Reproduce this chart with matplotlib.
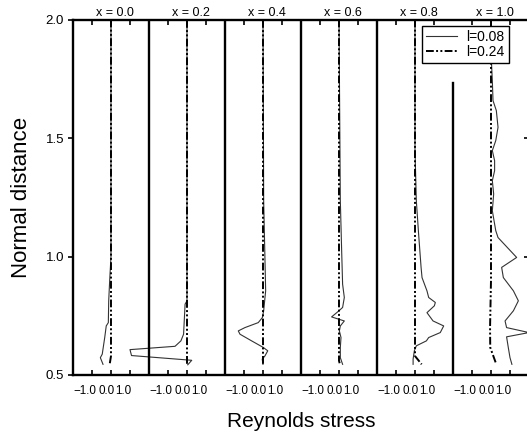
import numpy as np
import matplotlib.pyplot as plt
import matplotlib.transforms as mtransforms

plt.rcParams['font.family'] = ['Liberation Sans', 'DejaVu Sans']

# streamwise stations, one panel each
stations = ["x = 0.0", "x = 0.2", "x = 0.4", "x = 0.6", "x = 0.8", "x = 1.0"]

# l = 0.08 profiles: (Reynolds stress, normal distance)
s0_stress = [0, 0, -0.07, -0.12, -0.14, -0.25, -0.33, -0.46, -0.56, -0.42]
s0_y = [2.0, 1.0, 0.897, 0.813, 0.721, 0.707, 0.658, 0.588, 0.573, 0.545]
s1_stress = [0, 0, -0.1, -0.18, -0.32, -0.63, -3.0, -2.92, 0.25, 0.04]
s1_y = [2.0, 0.813, 0.799, 0.672, 0.644, 0.621, 0.607, 0.582, 0.562, 0.543]
s2_stress = [0, 0.035, 0.105, 0.14, 0.035, -0.035, -0.25, -0.95, -1.30, -1.21,
             -0.60, 0.02, 0.25, 0.1, -0.04, 0]
s2_y = [2.0, 1.235, 0.982, 0.855, 0.771, 0.742, 0.721, 0.700, 0.686, 0.672,
        0.644, 0.616, 0.602, 0.580, 0.567, 0.545]
s3_stress = [0, 0.07, 0.14, 0.19, 0.28, 0.19, 0, -0.39, 0.28, 0.07, 0.02,
             0.105, 0.07, 0.07, 0.19]
s3_y = [2.0, 1.235, 1.024, 0.883, 0.827, 0.785, 0.771, 0.745, 0.728, 0.707,
        0.686, 0.658, 0.616, 0.573, 0.545]
s4_stress = [0, 0, 0.07, 0.19, 0.32, 0.37, 0.63, 0.72, 1.07, 1.02, 0.63, 0.95,
             1.51, 1.33, 0.72, 0.6, 0.07, -0.035, -0.1, -0.1]
s4_y = [2.0, 1.447, 1.235, 1.095, 0.954, 0.911, 0.855, 0.827, 0.806, 0.792,
        0.763, 0.728, 0.707, 0.679, 0.658, 0.644, 0.623, 0.602, 0.567, 0.545]
s5_stress = [0, 0.02, 0.07, 0.105, 0.28, 0.37, 0.25, 0.07, 0.19, 0.19, 0.07,
             0.14, 0.07, 0.25, 0.37, 1.35, 0.56, 0.65, 1.18, 1.44, 1.18, 0.74,
             0.82, 2.0, 0.82, 0.91, 1.0, 1.1]
s5_y = [2.0, 1.827, 1.742, 1.658, 1.616, 1.545, 1.489, 1.447, 1.404, 1.362,
        1.320, 1.264, 1.193, 1.109, 1.080, 0.996, 0.954, 0.911, 0.855, 0.813,
        0.771, 0.728, 0.700, 0.679, 0.661, 0.616, 0.573, 0.545]

# l = 0.24 profiles
d0_stress = [0, 0, -0.07]
d0_y = [2.0, 0.58, 0.545]
d1_stress = [0, 0]
d1_y = [2.0, 0.545]
d2_stress = [0, 0]
d2_y = [2.0, 0.545]
d3_stress = [0, 0, 0.05]
d3_y = [2.0, 0.56, 0.545]
d4_stress = [0, 0, 0.35]
d4_y = [2.0, 0.58, 0.545]
d5_stress = [0, 0, -0.05, -0.04, 0.28]
d5_y = [2.0, 0.9, 0.7, 0.616, 0.545]

solid = [(s0_stress, s0_y), (s1_stress, s1_y), (s2_stress, s2_y),
         (s3_stress, s3_y), (s4_stress, s4_y), (s5_stress, s5_y)]
dashed = [(d0_stress, d0_y), (d1_stress, d1_y), (d2_stress, d2_y),
          (d3_stress, d3_y), (d4_stress, d4_y), (d5_stress, d5_y)]

panel_ticks = [-1.0, 0.0, 1.0]
tick_text = ["\u22121.0", "0.0", "1.0"]
label_nudge = [-7.0, -4.5, -6.5]  # px, per tick within a panel
y_ticks = [0.5, 1.0, 1.5, 2.0]
width = 4.0  # each panel spans -2..2 in stress

fig = plt.figure(figsize=(5.27, 4.41), dpi=100)
ax = fig.add_axes([0.1385, 0.1497, 0.8653, 0.806])

dashdot = (0, (4, 1.2, 1, 1.2, 1, 1.2))
for k in range(len(stations)):
    off = k * width
    xs, ys = solid[k]
    xd, yd = dashed[k]
    ax.plot(np.array(xs) + off, ys, color='#333333', lw=0.8,
            label='l=0.08' if k == 0 else None)
    ax.plot(np.array(xd) + off, yd, color='black', lw=1.4, linestyle=dashdot,
            label='l=0.24' if k == 0 else None)
    ax.text(off + 0.2, 2.013, stations[k], ha='center', va='baseline', fontsize=9)

# panel separators
for k in range(1, 5):
    ax.axvline(k * width - 2, color='black', lw=1.7)
ax.plot([5 * width - 2, 5 * width - 2], [0.5, 1.734], color='black', lw=1.7)

ticks = [k * width + t for k in range(6) for t in panel_ticks]
labels = tick_text * 6
ax.set_xticks(ticks)
ax.set_xticklabels(labels, fontsize=8.4)
ax.set_xlim(-2, 22)
ax.set_ylim(0.5, 2.0)
ax.set_yticks(y_ticks)
ax.set_yticklabels(["0.5", "1.0", "1.5", "2.0"], fontsize=9.5)

ax.tick_params(axis='x', direction='in', top=True, length=3.5, width=1.2, pad=7)
ax.tick_params(axis='y', direction='out', length=3.5, width=1.2, pad=3)
for sp in ax.spines.values():
    sp.set_linewidth(1.7)

# inward ticks on the right-hand side
ax_r = ax.secondary_yaxis('right')
ax_r.set_yticks(y_ticks)
ax_r.set_yticklabels([])
ax_r.tick_params(direction='in', length=3.5, width=1.2)
ax_r.spines['right'].set_linewidth(1.7)

# stress labels sit a little left of their ticks
for i, lab in enumerate(ax.get_xticklabels()):
    dx = label_nudge[i % 3] / 100
    lab.set_transform(lab.get_transform() +
                      mtransforms.ScaledTranslation(dx, 0, fig.dpi_scale_trans))

ax.set_xlabel("Reynolds stress", fontsize=15, labelpad=11)
ax.set_ylabel("Normal distance", fontsize=16, labelpad=10)

leg = ax.legend(loc='upper right', bbox_to_anchor=(0.956, 0.982),
                borderaxespad=0, fancybox=False, framealpha=1,
                edgecolor='black', fontsize=10, handlelength=2.2,
                handletextpad=0.7, labelspacing=0.05, borderpad=0.3)
leg.get_frame().set_linewidth(1.0)

fig.savefig("out.png", dpi=100)
